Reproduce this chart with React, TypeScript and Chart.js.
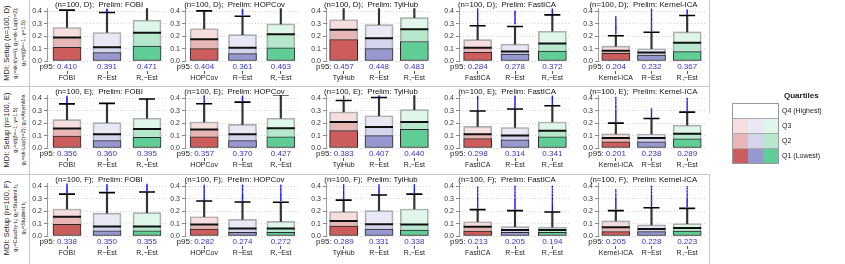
import React, { useEffect, useRef } from "react";
import { Chart, registerables } from "chart.js";
Chart.register(...registerables);

const FONT = "'Liberation Sans', Arial, Helvetica, sans-serif";
Chart.defaults.font.family = FONT;

// ---------- data ----------
const setups = ["D", "E", "F"];
const methods = ["FOBI", "HOPCov", "TylHub", "FastICA", "Kernel-ICA"];
const estimators = ["R−Est", "R₊−Est"];

const rowTitle = ["MDI: Setup (n=100, D)", "MDI: Setup (n=100, E)", "MDI: Setup (n=100, F)"];
const rowLine2 = ["g₁=sk-t(ν=4); g₂=sk-Lap(τ=2);", "g₁=st(β=−1, γ=1.5)", "g₁=Cauchy t₁; g₂=Student t₃"];
const rowLine3 = ["g₃=st(β=−1, γ=1.5)", "g₂=sk-Lap(τ=2); g₃=AsymMix", "g₃=Student t₅"];

// per row: [panel][method, R-Est, R+-Est]
const q1D = [[0.11, 0.067, 0.12], [0.10, 0.06, 0.107], [0.173, 0.10, 0.157], [0.07, 0.056, 0.08], [0.061, 0.048, 0.075]];
const medD = [[0.19, 0.11, 0.227], [0.176, 0.107, 0.216], [0.253, 0.184, 0.256], [0.107, 0.077, 0.141], [0.083, 0.069, 0.147]];
const q3D = [[0.27, 0.23, 0.33], [0.26, 0.213, 0.30], [0.333, 0.293, 0.35], [0.173, 0.136, 0.24], [0.12, 0.099, 0.235]];
const p95D = [[0.410, 0.391, 0.471], [0.404, 0.361, 0.463], [0.457, 0.448, 0.483], [0.284, 0.278, 0.372], [0.204, 0.232, 0.367]];

const q1E = [[0.097, 0.06, 0.086], [0.09, 0.06, 0.09], [0.14, 0.10, 0.15], [0.075, 0.065, 0.09], [0.049, 0.049, 0.073]];
const medE = [[0.157, 0.11, 0.154], [0.15, 0.11, 0.16], [0.21, 0.17, 0.21], [0.11, 0.10, 0.14], [0.081, 0.08, 0.114]];
const q3E = [[0.229, 0.204, 0.24], [0.21, 0.19, 0.24], [0.29, 0.26, 0.31], [0.175, 0.165, 0.21], [0.114, 0.113, 0.184]];
const p95E = [[0.356, 0.360, 0.395], [0.357, 0.370, 0.427], [0.383, 0.407, 0.440], [0.298, 0.314, 0.341], [0.201, 0.238, 0.289]];

const q1F = [[0.095, 0.041, 0.041], [0.055, 0.029, 0.029], [0.079, 0.055, 0.047], [0.04, 0.03, 0.03], [0.035, 0.035, 0.04]];
const medF = [[0.155, 0.076, 0.076], [0.092, 0.06, 0.06], [0.121, 0.095, 0.092], [0.075, 0.049, 0.049], [0.07, 0.057, 0.065]];
const q3F = [[0.218, 0.185, 0.188], [0.155, 0.134, 0.118], [0.197, 0.205, 0.218], [0.115, 0.076, 0.071], [0.122, 0.09, 0.10]];
const p95F = [[0.338, 0.350, 0.355], [0.282, 0.274, 0.272], [0.289, 0.331, 0.338], [0.213, 0.205, 0.194], [0.205, 0.228, 0.223]];

// outliers above p95 (blue dots), visible part only
const outD = [
  [[], [0.396, 0.401, 0.407, 0.412, 0.418], []],
  [[], [0.372, 0.379, 0.386, 0.392, 0.398, 0.405, 0.411, 0.417], []],
  [[], [], []],
  [
    [0.293, 0.3, 0.308, 0.315, 0.322, 0.33, 0.337, 0.345, 0.352, 0.36, 0.368, 0.376, 0.385, 0.394, 0.402, 0.412, 0.42],
    [0.3, 0.307, 0.315, 0.322, 0.33, 0.338, 0.346, 0.355, 0.364, 0.373, 0.382, 0.392, 0.4],
    [0.381, 0.388, 0.395, 0.402, 0.41, 0.418],
  ],
  [
    [0.218, 0.226, 0.233, 0.241, 0.249, 0.257, 0.265, 0.273, 0.281, 0.29, 0.298, 0.307, 0.316, 0.326, 0.336, 0.346, 0.356],
    [0.243, 0.25, 0.258, 0.266, 0.274, 0.282, 0.29, 0.298, 0.307, 0.316, 0.325, 0.334, 0.344, 0.354, 0.364, 0.375, 0.386, 0.397, 0.408, 0.418],
    [0.378, 0.386, 0.394, 0.402, 0.41],
  ],
];
const outE = [
  [[0.366, 0.373, 0.38, 0.387, 0.394, 0.401, 0.409, 0.417], [], []],
  [[0.367, 0.374, 0.381, 0.389, 0.397, 0.405, 0.413, 0.42], [0.38, 0.387, 0.394, 0.402, 0.41, 0.418], []],
  [[0.395, 0.403, 0.411, 0.419], [0.414, 0.42], []],
  [
    [0.307, 0.314, 0.322, 0.33, 0.338, 0.346, 0.354, 0.362, 0.371, 0.38, 0.389, 0.398, 0.407, 0.416],
    [0.323, 0.33, 0.338, 0.346, 0.354, 0.362, 0.371, 0.38, 0.389, 0.398, 0.408, 0.418],
    [0.35, 0.357, 0.365, 0.373, 0.381, 0.39, 0.399, 0.408, 0.418],
  ],
  [
    [0.212, 0.22, 0.228, 0.236, 0.244, 0.252, 0.26, 0.268, 0.277, 0.286, 0.295, 0.304, 0.314, 0.324, 0.334, 0.345, 0.356, 0.368, 0.38, 0.393, 0.406],
    [0.248, 0.256, 0.264, 0.272, 0.28, 0.289, 0.298, 0.307, 0.316],
    [0.298, 0.306, 0.314, 0.322, 0.33, 0.339, 0.348, 0.357, 0.367, 0.377, 0.388, 0.399],
  ],
];
const outF = [
  [
    [0.35, 0.358, 0.366, 0.374, 0.383, 0.392, 0.401, 0.41, 0.419],
    [0.362, 0.37, 0.378, 0.386, 0.395, 0.404, 0.413],
    [0.366, 0.374, 0.382, 0.39, 0.399, 0.408, 0.417],
  ],
  [
    [0.293, 0.3, 0.308, 0.316, 0.324, 0.332, 0.341, 0.35, 0.359, 0.368, 0.378, 0.388, 0.398, 0.409],
    [0.286, 0.294, 0.302, 0.31, 0.318, 0.327, 0.336, 0.345, 0.355, 0.365, 0.375, 0.386, 0.397, 0.408],
    [0.284, 0.292, 0.3, 0.308, 0.317, 0.326, 0.335, 0.344, 0.354, 0.364, 0.375, 0.386, 0.397, 0.408],
  ],
  [
    [0.3, 0.308, 0.316, 0.324, 0.333, 0.342, 0.351, 0.36, 0.37, 0.38, 0.39, 0.401, 0.412],
    [0.343, 0.351, 0.359, 0.367, 0.376, 0.385, 0.394, 0.403, 0.413],
    [0.35, 0.358, 0.366, 0.375, 0.384, 0.393, 0.402, 0.412],
  ],
  [
    [0.225, 0.233, 0.241, 0.249, 0.257, 0.266, 0.275, 0.284, 0.293, 0.303, 0.313, 0.323, 0.334, 0.345, 0.356, 0.368, 0.38, 0.392],
    [0.217, 0.225, 0.233, 0.241, 0.249, 0.258, 0.267, 0.276, 0.285, 0.295, 0.305, 0.316, 0.327, 0.338, 0.35, 0.362, 0.375, 0.388, 0.4],
    [0.206, 0.214, 0.222, 0.23, 0.238, 0.247, 0.256, 0.265, 0.274, 0.284, 0.294, 0.304, 0.315, 0.326, 0.337, 0.349, 0.361, 0.374, 0.387, 0.4],
  ],
  [
    [0.217, 0.225, 0.233, 0.241, 0.249, 0.257, 0.266, 0.275, 0.284, 0.293, 0.303, 0.313, 0.324, 0.335, 0.347, 0.36, 0.372],
    [0.24, 0.248, 0.256, 0.264, 0.272, 0.281, 0.29, 0.299, 0.308, 0.318, 0.328, 0.339, 0.35, 0.362, 0.374, 0.387, 0.4],
    [0.235, 0.243, 0.251, 0.259, 0.268, 0.277, 0.286, 0.295, 0.305, 0.315, 0.325, 0.336, 0.347, 0.359, 0.371, 0.384, 0.397],
  ],
];

const yTicks = [0, 0.1, 0.2, 0.3, 0.4];
const legendLabels = ["Q4 (Highest)", "Q3", "Q2", "Q1 (Lowest)"];

const Q1S = [q1D, q1E, q1F];
const MEDS = [medD, medE, medF];
const Q3S = [q3D, q3E, q3F];
const P95S = [p95D, p95E, p95F];
const OUTS = [outD, outE, outF];

// ---------- style ----------
const DARK = ["rgb(205,92,92)", "rgb(152,152,208)", "rgb(96,204,150)"];
const MID = ["rgb(233,182,182)", "rgb(212,212,236)", "rgb(182,232,206)"];
const LIGHT = ["rgb(246,222,222)", "rgb(233,233,246)", "rgb(223,246,234)"];

const AXIS_X = [47, 185, 326, 459, 598];
const PLOT_W = [120, 115, 106, 112, 107];
const ROW_TOP = [0, 87, 175];
const Y_AXIS_W = 16;
const CANVAS_H = 87;
const Y_MAX = 0.425;

function Panel({ r, c }: { r: number; c: number }) {
  const ref = useRef<HTMLCanvasElement>(null);
  useEffect(() => {
    const cats = [methods[c], ...estimators];
    const q1 = Q1S[r][c];
    const med = MEDS[r][c];
    const q3 = Q3S[r][c];
    const p95 = P95S[r][c];
    const outs = OUTS[r][c];
    const p95Labels = p95.map((v) => v.toFixed(3));

    const prefixPlugin = {
      id: "p95prefix",
      afterDraw(chart: any) {
        const xp = chart.scales.xp;
        const ctx = chart.ctx;
        ctx.save();
        ctx.font = `8px ${FONT}`;
        const w = ctx.measureText(p95Labels[0]).width;
        const x0 = xp.getPixelForValue(0) - w / 2 - 2;
        ctx.textAlign = "right";
        ctx.textBaseline = "middle";
        ctx.fillStyle = "#222";
        ctx.fillText("p95:", x0, xp.top + 2 + 4);
        ctx.restore();
      },
    };

    const outlierPts: { x: string; y: number }[] = [];
    outs.forEach((arr, i) => arr.forEach((v) => outlierPts.push({ x: cats[i], y: v })));

    const common = { xAxisID: "x", yAxisID: "y" };
    const chart = new Chart(ref.current!, {
      type: "bar",
      data: {
        labels: cats,
        datasets: [
          {
            ...common,
            type: "scatter",
            data: outlierPts,
            backgroundColor: "#1414ff",
            borderWidth: 0,
            pointRadius: 0.8,
            order: 1,
            clip: 0,
          } as any,
          {
            ...common,
            type: "scatter",
            data: cats.map((cat, i) => ({ x: cat, y: p95[i] })),
            pointStyle: "line",
            pointRadius: 8,
            borderColor: "#000",
            borderWidth: 1.6,
            order: 2,
            clip: 0,
          } as any,
          {
            ...common,
            type: "scatter",
            data: cats.map((cat, i) => ({ x: cat, y: med[i] })),
            pointStyle: "line",
            pointRadius: 14,
            borderColor: "#111",
            borderWidth: 2,
            order: 3,
            clip: 0,
          } as any,
          {
            ...common,
            type: "bar",
            data: cats.map((_, i) => [q3[i], p95[i]]),
            backgroundColor: "#333",
            barThickness: 1.5,
            grouped: false,
            order: 4,
            clip: 0,
          } as any,
          {
            ...common,
            type: "bar",
            data: cats.map((_, i) => [0, q1[i]]),
            backgroundColor: DARK,
            borderColor: "#2a2a2a",
            borderWidth: 1,
            borderSkipped: false,
            barThickness: 28,
            grouped: false,
            order: 5,
          } as any,
          {
            ...common,
            type: "bar",
            data: cats.map((_, i) => [0, q3[i]]),
            backgroundColor: "rgba(0,0,0,0)",
            borderColor: "#b0b0b0",
            borderWidth: 1,
            borderSkipped: false,
            barThickness: 28,
            grouped: false,
            order: 6,
          } as any,
          {
            ...common,
            type: "bar",
            data: cats.map((_, i) => [q1[i], med[i]]),
            backgroundColor: MID,
            barThickness: 28,
            grouped: false,
            order: 9,
          } as any,
          {
            ...common,
            type: "bar",
            data: cats.map((_, i) => [med[i], q3[i]]),
            backgroundColor: LIGHT,
            barThickness: 28,
            grouped: false,
            order: 10,
          } as any,
        ],
      },
      options: {
        animation: false,
        responsive: false,
        events: [],
        layout: { padding: 0, autoPadding: false },
        plugins: {
          legend: { display: false },
          tooltip: { enabled: false },
          title: {
            display: true,
            text: `(n=100, ${setups[r]});  Prelim: ${methods[c]}`,
            font: { size: 7.8, weight: "normal", lineHeight: 1 },
            color: "#111",
            padding: { top: 0.5, bottom: 0 },
          },
        },
        scales: {
          x: {
            type: "category",
            position: "bottom",
            weight: 1,
            offset: true,
            afterFit: (s: any) => {
              s.height = 16;
            },
            grid: {
              display: true,
              drawOnChartArea: false,
              drawTicks: true,
              tickLength: 3,
              tickColor: "#555",
              offset: false,
            },
            border: { display: false },
            ticks: { font: { size: 7, lineHeight: 1 }, color: "#222", padding: 1, maxRotation: 0, autoSkip: false },
          },
          xp: {
            type: "category",
            position: "bottom",
            labels: p95Labels,
            offset: true,
            weight: 0,
            afterFit: (s: any) => {
              s.height = 10;
            },
            grid: { display: false, drawTicks: false },
            border: { display: false },
            ticks: { font: { size: 8, lineHeight: 1 }, color: "#3535c0", padding: 2, maxRotation: 0, autoSkip: false },
          },
          y: {
            min: 0,
            max: Y_MAX,
            afterFit: (s: any) => {
              s.width = Y_AXIS_W;
            },
            afterBuildTicks: (s: any) => {
              s.ticks = yTicks.map((v) => ({ value: v }));
            },
            ticks: {
              font: { size: 7 },
              color: "#333",
              padding: 2,
              callback: (v: any) => Number(v).toFixed(1),
            },
            grid: {
              color: "#d4d4d4",
              lineWidth: 1,
              drawTicks: true,
              tickLength: 3,
              tickColor: "#888",
            },
            border: { display: true, color: "#999", dash: [1, 2] },
          },
        },
      } as any,
      plugins: [prefixPlugin],
    });
    return () => chart.destroy();
  }, [r, c]);

  const left = AXIS_X[c] - Y_AXIS_W;
  const width = Y_AXIS_W + PLOT_W[c];
  return (
    <canvas
      ref={ref}
      width={width}
      height={CANVAS_H}
      style={{ position: "absolute", left, top: ROW_TOP[r], width, height: CANVAS_H }}
    />
  );
}

function RowLabel({ r }: { r: number }) {
  return (
    <div
      style={{
        position: "absolute",
        left: 0,
        top: ROW_TOP[r] + 86,
        width: 86,
        height: 29,
        transform: "rotate(-90deg)",
        transformOrigin: "top left",
        textAlign: "center",
        fontFamily: FONT,
        color: "#222",
        whiteSpace: "nowrap",
      }}
    >
      <div style={{ fontSize: 7.5, lineHeight: "9px", marginTop: 2 }}>{rowTitle[r]}</div>
      <div style={{ fontSize: 5.5, lineHeight: "8px" }}>{rowLine2[r]}</div>
      <div style={{ fontSize: 5.5, lineHeight: "8px" }}>{rowLine3[r]}</div>
    </div>
  );
}

function Legend() {
  const rows = [["#fff", "#fff", "#fff"], LIGHT, MID, DARK];
  return (
    <div style={{ position: "absolute", left: 732, top: 90, width: 113, height: 80, fontFamily: FONT, transform: "translateZ(0)" }}>
      <div style={{ position: "absolute", left: 52, top: 1, fontSize: 8, fontWeight: "bold", color: "#222", whiteSpace: "nowrap" }}>
        Quartiles
      </div>
      <div style={{ position: "absolute", left: 0, top: 13, width: 45, border: "1px solid #999" }}>
        {rows.map((cols, i) => (
          <div key={i} style={{ display: "flex", height: 14, borderTop: i ? "1px solid #aaa" : "none" }}>
            {cols.map((col, j) => (
              <div key={j} style={{ flex: 1, background: col }} />
            ))}
          </div>
        ))}
      </div>
      {legendLabels.map((t, i) => (
        <div
          key={t}
          style={{
            position: "absolute",
            left: 50,
            top: 13 + i * 15 + 3,
            fontSize: 7,
            lineHeight: "9px",
            color: "#222",
            whiteSpace: "nowrap",
          }}
        >
          {t}
        </div>
      ))}
    </div>
  );
}

export default function App() {
  const line = "#c8c8c8";
  return (
    <div style={{ position: "fixed", left: 0, top: 0, width: 845, height: 264, background: "#fff", overflow: "hidden" }}>
      {[0, 1, 2].map((r) => (
        <RowLabel key={"l" + r} r={r} />
      ))}
      {[0, 1, 2].map((r) => [0, 1, 2, 3, 4].map((c) => <Panel key={`${r}-${c}`} r={r} c={c} />))}
      <div style={{ position: "absolute", left: 29, top: 0, width: 1, height: 264, background: line }} />
      <div style={{ position: "absolute", left: 0, top: 86, width: 710, height: 1, background: line }} />
      <div style={{ position: "absolute", left: 0, top: 174, width: 710, height: 1, background: line }} />
      <div style={{ position: "absolute", left: 709, top: 0, width: 1, height: 113, background: line }} />
      <div style={{ position: "absolute", left: 709, top: 174, width: 1, height: 90, background: line }} />
      <Legend />
    </div>
  );
}
